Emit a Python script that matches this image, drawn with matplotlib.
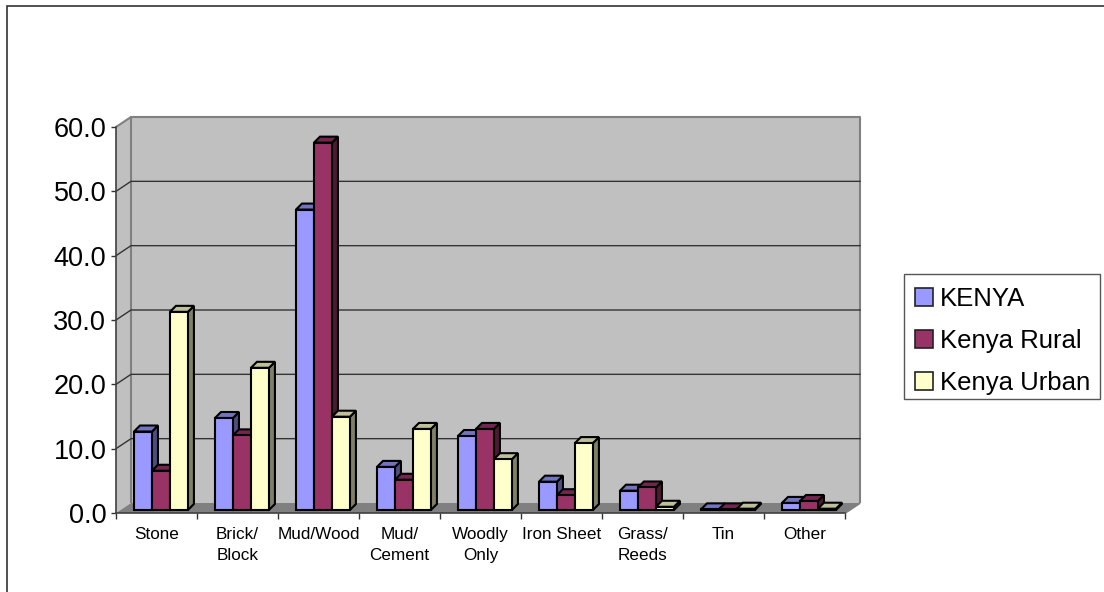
import matplotlib
matplotlib.use("Agg")
import matplotlib.pyplot as plt
from matplotlib.patches import Polygon, Patch, Rectangle

plt.rcParams['font.family'] = ['Liberation Sans', 'DejaVu Sans']

categories = ["Stone", "Brick/\nBlock", "Mud/Wood", "Mud/\nCement", "Woodly\nOnly",
              "Iron Sheet", "Grass/\nReeds", "Tin", "Other"]
kenya = [12.2, 14.3, 46.7, 6.7, 11.5, 4.4, 3.0, 0.1, 1.1]
rural = [6.1, 11.6, 57.1, 4.7, 12.6, 2.3, 3.5, 0.1, 1.4]
urban = [30.8, 22.1, 14.5, 12.6, 7.9, 10.4, 0.5, 0.2, 0.2]
series_names = ["KENYA", "Kenya Rural", "Kenya Urban"]
series_values = [kenya, rural, urban]
y_ticks = [0, 10, 20, 30, 40, 50, 60]

front = ["#9999FF", "#993366", "#FFFFCC"]
top = ["#7373BF", "#732650", "#BFBF99"]
side = ["#4D4D80", "#4D1A33", "#808066"]

W, H = 1104, 592
fig = plt.figure(figsize=(W / 100, H / 100), dpi=100, facecolor="white")
ax = fig.add_axes([116 / W, (H - 513) / H, 729 / W, 386 / H])
n = len(categories)
ax.set_xlim(0, n)
ax.set_ylim(0, 60)
ax.patch.set_visible(False)
ux, uy = n / 729, 60 / 386


def pt(x, v, dx=0, dy=0):
    return (x + dx * ux, v + dy * uy)


def poly(points, fc, ec="none", lw=0, z=1):
    ax.add_patch(Polygon(points, closed=True, facecolor=fc, edgecolor=ec, linewidth=lw,
                         zorder=z, clip_on=False, joinstyle="miter"))


DX, DY = 15, 10
wall = "#C0C0C0"
poly([pt(0, 0), pt(0, 60), pt(0, 60, DX, DY), pt(0, 0, DX, DY)], wall, z=1)
poly([pt(0, 0, DX, DY), pt(0, 60, DX, DY), pt(n, 60, DX, DY), pt(n, 0, DX, DY)], wall, z=1)
poly([pt(0, 0), pt(0, 0, DX, DY), pt(n, 0, DX, DY), pt(n, 0)], "#808080", z=1)

# wall outlines
edge = dict(color="#808080", lw=1.5, zorder=1.5, clip_on=False, solid_capstyle="butt")
ax.plot(*zip(pt(0, 0, DX, DY), pt(0, 60, DX, DY), pt(n, 60, DX, DY), pt(n, 0, DX, DY)), **edge)
ax.plot(*zip(pt(0, 60), pt(0, 60, DX, DY)), **edge)
ax.plot(*zip(pt(n, 0), pt(n, 0, DX, DY)), **edge)

# gridlines on back and left walls
for v in y_ticks[1:-1]:
    ax.plot(*zip(pt(0, v), pt(0, v, DX, DY), pt(n, v, DX, DY)), color="#333333", lw=1.0,
            zorder=2, clip_on=False)

# 3-D bars
bar_w, start, base = 0.222, 0.222, 3
bd = 6
for i in range(n):
    for s, vals in enumerate(series_values):
        v = vals[i]
        x0 = i + start + s * bar_w
        x1 = x0 + bar_w
        kw = dict(ec="black", lw=1.5, z=3 + i + s * 0.1)
        poly([pt(x1, 0, 0, base), pt(x1, v, 0, base), pt(x1, v, bd, base + bd), pt(x1, 0, bd, base + bd)], side[s], **kw)
        poly([pt(x0, v, 0, base), pt(x0, v, bd, base + bd), pt(x1, v, bd, base + bd), pt(x1, v, 0, base)], top[s], **kw)
        poly([pt(x0, 0, 0, base), pt(x0, v, 0, base), pt(x1, v, 0, base), pt(x1, 0, 0, base)], front[s], **kw)

for sp in ("top", "right"):
    ax.spines[sp].set_visible(False)
for sp in ("left", "bottom"):
    ax.spines[sp].set_color("#404040")
    ax.spines[sp].set_linewidth(1.2)
    ax.spines[sp].set_zorder(20)

ax.set_yticks(y_ticks)
ax.set_yticklabels([f"{v:.1f}" for v in y_ticks], fontsize=19.5)
ax.tick_params(axis="y", length=3.5, width=1, color="#333333", pad=3.5)
ax.set_xticks(range(n + 1))
ax.set_xticklabels([])
ax.tick_params(axis="x", which="major", length=4, width=1, color="#333333")
ax.set_xticks([i + 0.5 for i in range(n)], minor=True)
ax.set_xticklabels(categories, minor=True, fontsize=12.3, linespacing=1.5)
ax.tick_params(axis="x", which="minor", length=0, pad=10)

# outer chart frame
fig.add_artist(Rectangle((7 / W, -10 / H), (W + 20) / W, (H + 4.5) / H, transform=fig.transFigure,
                         fill=False, edgecolor="#333333", linewidth=1.2))

# legend box and entries
fig.add_artist(Rectangle((904.5 / W, (H - 399) / H), 195.5 / W, 125 / H, transform=fig.transFigure,
                         facecolor="white", edgecolor="#555555", linewidth=1.0))
handles = [Patch(facecolor=c, edgecolor="#222222", linewidth=1.2, label=l) for c, l in zip(front, series_names)]
leg = fig.legend(handles=handles, loc="upper left",
                 bbox_to_anchor=(904.5 / W, (H - 277) / H), bbox_transform=fig.transFigure,
                 fontsize=18.5, frameon=False, handlelength=0.7, handleheight=0.7, handletextpad=0.28,
                 labelspacing=0.70, borderpad=0.4, borderaxespad=0, columnspacing=0)
leg.set_zorder(10)

fig.savefig("out.png", dpi=100, facecolor="white")
